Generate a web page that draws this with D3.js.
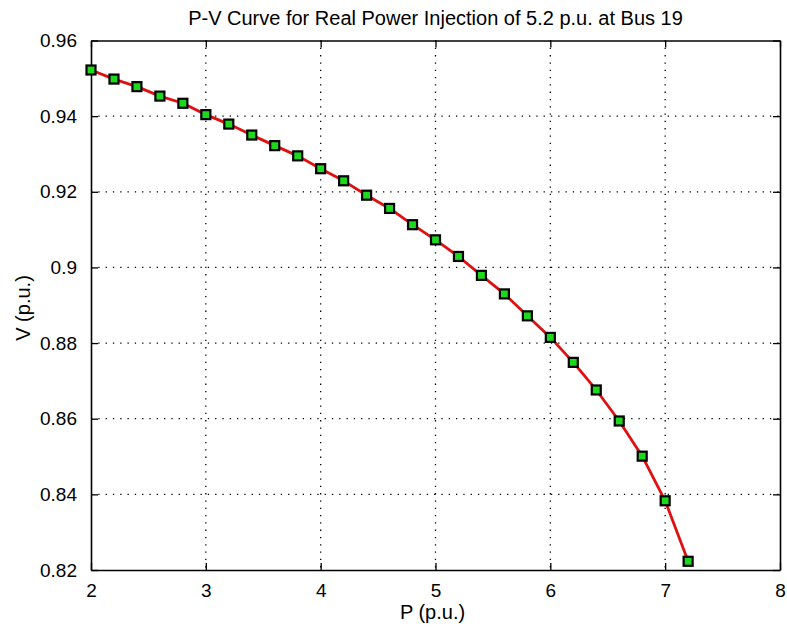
<!DOCTYPE html>
<html>
<head>
<meta charset="utf-8">
<script src="https://cdn.jsdelivr.net/npm/d3@7/dist/d3.min.js"></script>
<style>
  html, body { margin: 0; padding: 0; background: #ffffff; }
  svg { display: block; }
  text { font-family: "Liberation Sans", Arial, sans-serif; fill: #000; }
</style>
</head>
<body>
<svg id="chart" width="787" height="632"></svg>
<script>
// ---- data ----
const powerP = [2.0, 2.2, 2.4, 2.6, 2.8, 3.0, 3.2, 3.4, 3.6, 3.8, 4.0, 4.2, 4.4, 4.6,
                4.8, 5.0, 5.2, 5.4, 5.6, 5.8, 6.0, 6.2, 6.4, 6.6, 6.8, 7.0, 7.2];
const voltageV = [0.9522, 0.9498, 0.9478, 0.9453, 0.9434, 0.9404, 0.9379, 0.9350, 0.9322,
                  0.9295, 0.9261, 0.9229, 0.9191, 0.9156, 0.9113, 0.9073, 0.9029, 0.8979,
                  0.8930, 0.8872, 0.8815, 0.8749, 0.8676, 0.8594, 0.8501, 0.8383, 0.8223];
const xTicks = [2, 3, 4, 5, 6, 7, 8];
const yTicks = [0.82, 0.84, 0.86, 0.88, 0.9, 0.92, 0.94, 0.96];
const titleText = "P-V Curve for Real Power Injection of 5.2 p.u. at Bus 19";
const xLabel = "P (p.u.)";
const yLabel = "V (p.u.)";

// ---- layout ----
const pLeft = 91, pRight = 780, pTop = 40.5, pBottom = 570;
const svg = d3.select("#chart");

const x = d3.scaleLinear().domain([2, 8]).range([pLeft, pRight]);
const y = d3.scaleLinear().domain([0.82, 0.96]).range([pBottom, pTop]);

// grid (dotted)
const grid = svg.append("g");
grid.selectAll("line.vx").data(xTicks.slice(1, -1)).join("line")
  .attr("x1", d => x(d)).attr("x2", d => x(d))
  .attr("y1", pTop).attr("y2", pBottom)
  .attr("stroke", "#000").attr("stroke-width", 1.3)
  .attr("stroke-dasharray", "1.3,6");
grid.selectAll("line.hy").data(yTicks.slice(1, -1)).join("line")
  .attr("x1", pLeft).attr("x2", pRight)
  .attr("y1", d => y(d)).attr("y2", d => y(d))
  .attr("stroke", "#000").attr("stroke-width", 1.3)
  .attr("stroke-dasharray", "1.3,6");

// axes with inward ticks on all four sides
const tickLen = 7;
const fmtY = d => String(+d.toFixed(2));
const axB = svg.append("g").attr("transform", `translate(0,${pBottom})`)
  .call(d3.axisBottom(x).tickValues(xTicks).tickSizeInner(-tickLen).tickSizeOuter(0).tickPadding(14).tickFormat(d3.format("d")));
const axT = svg.append("g").attr("transform", `translate(0,${pTop})`)
  .call(d3.axisTop(x).tickValues(xTicks).tickSizeInner(-tickLen).tickSizeOuter(0).tickFormat(""));
const axL = svg.append("g").attr("transform", `translate(${pLeft},0)`)
  .call(d3.axisLeft(y).tickValues(yTicks).tickSizeInner(-tickLen).tickSizeOuter(0).tickPadding(14).tickFormat(fmtY));
const axR = svg.append("g").attr("transform", `translate(${pRight},0)`)
  .call(d3.axisRight(y).tickValues(yTicks).tickSizeInner(-tickLen).tickSizeOuter(0).tickFormat(""));

[axB, axT, axL, axR].forEach(a => {
  a.select(".domain").attr("stroke", "#000").attr("stroke-width", 1.6);
  a.selectAll(".tick line").attr("stroke", "#000").attr("stroke-width", 1.3);
  a.selectAll("text").attr("font-size", 19).attr("font-family", "'Liberation Sans', Arial, sans-serif").attr("fill", "#111");
});

// line
const line = d3.line().x((d, i) => x(powerP[i])).y(d => y(d));
svg.append("path").datum(voltageV)
  .attr("d", line)
  .attr("fill", "none")
  .attr("stroke", "#e01010")
  .attr("stroke-width", 2.8)
  .attr("stroke-linejoin", "round");

// markers
const ms = 9;
svg.append("g").selectAll("rect").data(voltageV).join("rect")
  .attr("x", (d, i) => x(powerP[i]) - ms / 2)
  .attr("y", d => y(d) - ms / 2)
  .attr("width", ms).attr("height", ms)
  .attr("fill", "#1ed81e")
  .attr("stroke", "#000").attr("stroke-width", 2.2);

// title and labels
svg.append("text").attr("x", (pLeft + pRight) / 2).attr("y", 25)
  .attr("text-anchor", "middle").attr("font-size", 20).attr("fill", "#111").text(titleText);
svg.append("text").attr("x", (pLeft + pRight) / 2 - 3).attr("y", 619)
  .attr("text-anchor", "middle").attr("font-size", 20).attr("fill", "#111").text(xLabel);
svg.append("text").attr("transform", `translate(30,${308}) rotate(-90)`)
  .attr("text-anchor", "middle").attr("font-size", 20).attr("fill", "#111").text(yLabel);
</script>
</body>
</html>
